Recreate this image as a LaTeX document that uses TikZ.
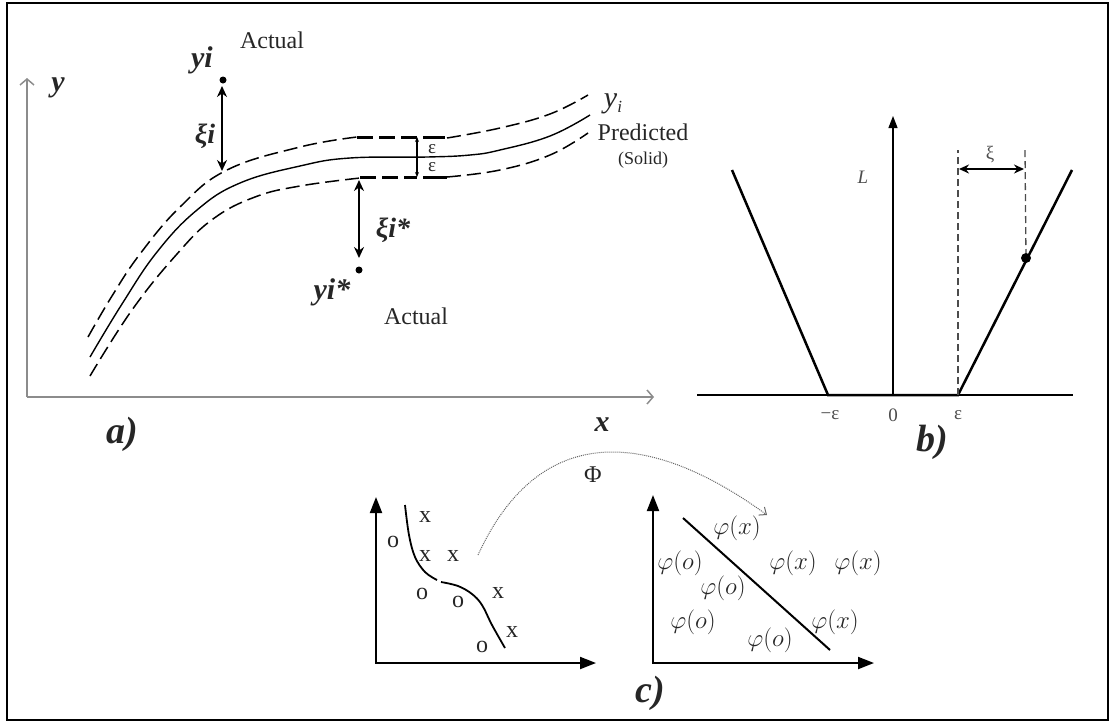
\documentclass[tikz,border=0pt]{standalone}
\usepackage{fontspec}
\setmainfont{Liberation Serif}
\usetikzlibrary{arrows.meta}
\newcommand\fsz[1]{\fontsize{#1}{#1}\selectfont}
\begin{document}
\begin{tikzpicture}[x=1pt,y=-1pt,
  lbl/.style={inner sep=0pt, text=black!85},
  rm/.style={lbl, font=\fsz{24}},
  bi/.style={lbl, font=\fsz{30}\bfseries\itshape},
  panel/.style={lbl, font=\fsz{38}\bfseries\itshape},
  small/.style={lbl, font=\fsz{19}, text=black!70},
  pts/.style={lbl, font=\fsz{24}},
  phi/.style={lbl, font=\fsz{23}},
  grayaxis/.style={draw=black!45, line width=1.5pt, -{Straight Barb[length=6pt,width=14pt]}},
  thindash/.style={line width=1.5pt, dash pattern=on 14pt off 6pt},
  thickdash/.style={line width=3pt, dash pattern=on 16pt off 6pt},
  dblarrow/.style={line width=2pt, {Stealth[length=11pt,width=10pt]}-{Stealth[length=11pt,width=10pt]}},
  filledaxis/.style={line width=2pt, {Triangle[length=16pt,width=12pt]}-{Triangle[length=16pt,width=12pt]}},
  dotpt/.style={circle, fill=black, inner sep=0pt, minimum size=7pt}
]
\useasboundingbox (0,0) rectangle (1113,724);
\draw[line width=2.5pt] (7,3) rectangle (1108,720);

% ---------------- a) ----------------
\coordinate (aO) at (27,397);
\coordinate (aY) at (27,78);
\coordinate (aX) at (654,397);
\draw[grayaxis] (aO) -- (aY);
\draw[grayaxis] (aO) -- (aX);
\node[bi] (ylab) at (58,88) {y};
\node[bi] (xlab) at (602,425) {x};
\node[panel] (alab) at (122,434) {a)};

% band curves
\draw[thindash] plot[smooth, tension=0.7] coordinates {(88,337) (112,296) (140,254) (180,207) (227,170) (300,147) (357,137)};
\draw[line width=1.4pt] plot[smooth, tension=0.7] coordinates {(90,357) (122,304) (157,252) (197,210) (240,183) (300,166) (350,158) (427,157) (470,155) (500,150) (550,136) (590,115)};
\draw[thindash] plot[smooth, tension=0.7] coordinates {(90,376) (132,310) (177,254) (213,219) (255,197) (300,186) (360,178)};
\draw[thindash] plot[smooth, tension=0.7] coordinates {(447,138) (500,128) (550,114) (588,95)};
\draw[thindash] plot[smooth, tension=0.7] coordinates {(447,177) (500,170) (550,155) (588,133)};

% epsilon box
\coordinate (bxTL) at (357,137);
\coordinate (bxTR) at (417,137);
\coordinate (bxBL) at (360,177);
\coordinate (bxBR) at (417,177);
\coordinate (bxM) at (417,157);
\draw[thickdash] (bxTL) -- (bxTR);
\draw[thickdash] (bxBL) -- (bxBR);
\draw[line width=3pt] (423,137) -- (445,137);
\draw[line width=3pt] (423,177) -- (447,177);
\draw[line width=1.3pt, -{Stealth[length=5pt,width=4pt]}] (bxM) -- (bxTR);
\draw[line width=1.3pt, -{Stealth[length=5pt,width=4pt]}] (bxM) -- (bxBR);
\node[lbl, font=\fsz{19}] (eps1) at (432,149) {ε};
\node[lbl, font=\fsz{19}] (eps2) at (432,167) {ε};

% actual points
\node[dotpt] (yiDot) at (223,80) {};
\coordinate (yiFoot) at (222,171);
\draw[dblarrow] (222,86) -- (yiFoot);
\node[bi] (yiLab) at (202,60) {yi};
\node[rm] (act1) at (272,40) {Actual};
\node[lbl, font=\fsz{28}\bfseries\itshape] (xiLab) at (205,136) {ξi};

\node[dotpt] (ysDot) at (359,270) {};
\coordinate (ysTop) at (359,180);
\draw[dblarrow] (ysTop) -- (359,258);
\node[lbl, font=\fsz{28}\bfseries\itshape] (xisLab) at (393,230) {ξi*};
\node[bi] (ysLab) at (332,292) {yi*};
\node[rm] (act2) at (416,316) {Actual};

\node[lbl, font=\fsz{30}\itshape] (yiPred) at (613,104) {y\raisebox{-0.35ex}{\fsz{17}i}};
\node[rm] (pred) at (643,132) {Predicted};
\node[lbl, font=\fsz{18}] (solid) at (643,160) {(Solid)};

% ---------------- b) ----------------
\coordinate (bL) at (697,395);
\coordinate (bR) at (1073,395);
\coordinate (bO) at (893,395);
\coordinate (bT) at (893,116);
\draw[line width=1.2pt] (bL) -- (bR);
\draw[line width=1.2pt, -{Triangle[length=12pt,width=9pt]}] (bO) -- (bT);
\coordinate (vA) at (732,170);
\coordinate (vB) at (828,395);
\coordinate (vC) at (958,395);
\coordinate (vD) at (1072,170);
\draw[line width=2.5pt, line join=miter] (vA) -- (vB) -- (vC) -- (vD);
\coordinate (dA) at (958,150);
\coordinate (dB) at (1025,150);
\node[dotpt, minimum size=10pt] (bDot) at (1026,258) {};
\draw[black!70, line width=1.3pt, dash pattern=on 7pt off 4pt] (vC) -- (dA);
\draw[black!70, line width=1.3pt, dash pattern=on 7pt off 4pt] (dB) -- (bDot);
\draw[line width=2pt, {Stealth[length=10pt,width=9pt]}-{Stealth[length=10pt,width=9pt]}] (959,169) -- (1024,169);
\node[small, font=\fsz{19}\itshape] (Llab) at (863,177) {L};
\node[small] (xiB) at (990,155) {ξ};
\node[small] (mEps) at (830,415) {−ε};
\node[small] (zero) at (893,415) {0};
\node[small] (pEps) at (958,415) {ε};
\node[panel] (blab) at (932,442) {b)};

% ---------------- c) ----------------
\coordinate (cO1) at (376,663);
\draw[filledaxis] (376,497) -- (cO1) -- (596,663);
\draw[line width=1.8pt] plot[smooth, tension=0.6] coordinates {(405,505) (409,535) (415,557) (425,572) (437,580)};
\draw[line width=1.8pt] plot[smooth, tension=0.6] coordinates {(441,582) (458,586) (472,594) (482,605) (492,625) (505,648)};
\node[pts] (p1) at (425,517) {x};
\node[pts] (p2) at (393,542) {o};
\node[pts] (p3) at (425,556) {x};
\node[pts] (p4) at (453,556) {x};
\node[pts] (p5) at (422,594) {o};
\node[pts] (p6) at (458,602) {o};
\node[pts] (p7) at (498,593) {x};
\node[pts] (p8) at (512,632) {x};
\node[pts] (p9) at (482,647) {o};

\coordinate (cO2) at (653,663);
\draw[filledaxis] (653,495) -- (cO2) -- (874,663);
\draw[line width=2pt] (683,518) -- (830,650);
\node[phi] (q1) at (737,528) {$\varphi(x)$};
\node[phi] (q2) at (680,563) {$\varphi(o)$};
\node[phi] (q3) at (793,563) {$\varphi(x)$};
\node[phi] (q4) at (858,563) {$\varphi(x)$};
\node[phi] (q5) at (723,588) {$\varphi(o)$};
\node[phi] (q6) at (693,622) {$\varphi(o)$};
\node[phi] (q7) at (835,622) {$\varphi(x)$};
\node[phi] (q8) at (770,640) {$\varphi(o)$};
\node[panel] (clab) at (650,693) {c)};

\coordinate (arcS) at (478,555);
\coordinate (arcE) at (767,515);
\draw[black!60, line width=1pt, dash pattern=on 1pt off 1pt, -{Straight Barb[length=6pt,width=10pt]}] (arcS) .. controls (540,420) and (650,430) .. (arcE);
\node[lbl, font=\fsz{24}] (Phi) at (593,475) {Φ};
\end{tikzpicture}
\end{document}
